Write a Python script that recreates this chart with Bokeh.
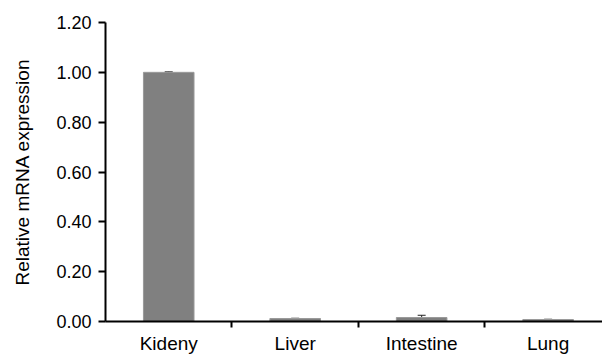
from bokeh.plotting import figure
from bokeh.models import Range1d, FixedTicker, ColumnDataSource, Whisker, TeeHead
from bokeh.embed import file_html
from bokeh.resources import INLINE

categories = ["Kideny", "Liver", "Intestine", "Lung"]
values = [1.0, 0.012, 0.016, 0.008]
errors = [0.002, 0.001, 0.009, 0.001]
y_ticks = [0.0, 0.2, 0.4, 0.6, 0.8, 1.0, 1.2]

xs = [i + 0.5 for i in range(len(categories))]
src = ColumnDataSource(dict(
    x=xs, top=values,
    upper=[v + e for v, e in zip(values, errors)],
    lower=[v - e for v, e in zip(values, errors)],
))

p = figure(width=602, height=356, output_backend="svg", toolbar_location=None,
           x_range=Range1d(0, 3.93), y_range=Range1d(0, 1.2))
p.min_border_left = 105
p.min_border_right = 0
p.min_border_top = 22
p.min_border_bottom = 34
p.outline_line_color = None
p.grid.visible = False
p.background_fill_color = "white"
p.border_fill_color = "white"

p.vbar(x="x", top="top", width=0.4, source=src, fill_color="#808080",
       line_color="#9a9a9a", line_width=1)

w = Whisker(base="x", upper="upper", lower="lower", source=src,
            line_color="#222222", line_width=1,
            upper_head=TeeHead(size=8, line_color="#222222", line_width=1),
            lower_head=TeeHead(size=8, line_color="#222222", line_width=1))
p.add_layout(w)

font = "Liberation Sans"
xa = p.xaxis[0]
xa.ticker = FixedTicker(ticks=xs, minor_ticks=[1, 2, 3])
xa.major_label_overrides = {x: c for x, c in zip(xs, categories)}
xa.major_tick_out = 0
xa.major_tick_in = 0
xa.minor_tick_out = 6
xa.minor_tick_in = 0
xa.minor_tick_line_color = "black"
xa.minor_tick_line_width = 2
xa.axis_line_width = 2
xa.axis_line_color = "black"
xa.major_label_text_font = font
xa.major_label_text_font_size = "19px"
xa.major_label_text_color = "black"
xa.major_label_standoff = 5

ya = p.yaxis[0]
ya.ticker = FixedTicker(ticks=y_ticks, minor_ticks=[])
ya.major_label_overrides = {t: f"{t:.2f}" for t in y_ticks}
ya.major_tick_out = 7
ya.major_tick_in = 0
ya.major_tick_line_width = 2
ya.major_tick_line_color = "black"
ya.axis_line_width = 2
ya.axis_line_color = "black"
ya.major_label_text_font = font
ya.major_label_text_font_size = "18px"
ya.major_label_text_color = "black"
ya.major_label_standoff = 7
ya.axis_label = "Relative mRNA expression"
ya.axis_label_text_font = font
ya.axis_label_text_font_size = "19px"
ya.axis_label_text_font_style = "normal"
ya.axis_label_text_color = "black"
ya.axis_label_standoff = 20

open("out.html", "w").write(file_html(p, INLINE))
